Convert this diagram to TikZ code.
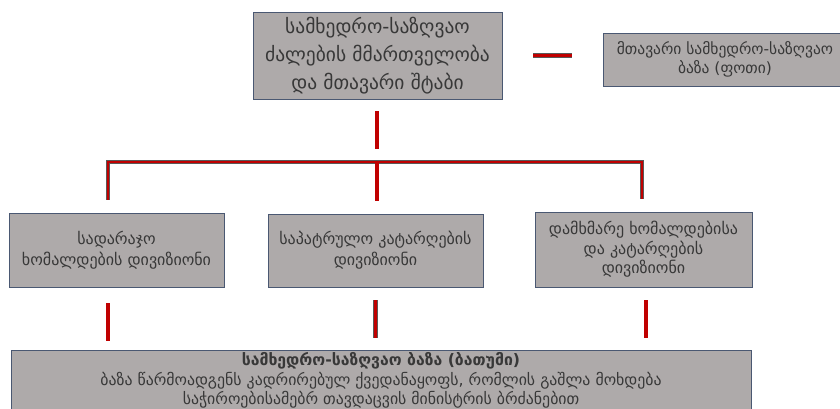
\documentclass[tikz,border=0pt]{standalone}
\usepackage{fontspec}
\setmainfont{DejaVu Sans}
\definecolor{boxfill}{HTML}{AEAAAA}
\definecolor{boxline}{HTML}{4A5872}
\definecolor{barred}{HTML}{C00000}
\definecolor{txt}{HTML}{383838}
\begin{document}
\begin{tikzpicture}[x=1pt,y=-1pt,
  orgbox/.style={draw=boxline, line width=0.9pt, fill=boxfill, text=txt, align=center, inner sep=2pt},
  bar/.style={draw=black!65, double=barred, line width=0.6pt, double distance=3.6pt},
  thinbar/.style={draw=black!65, double=barred, line width=0.6pt, double distance=2.4pt}]
\useasboundingbox (0,0) rectangle (840,409);
\clip (0,0) rectangle (840,409);

\node[orgbox, minimum width=249pt, minimum height=87pt, font=\fontsize{19.5}{28}\selectfont] (top) at (377.5,55.5)
  {სამხედრო-საზღვაო\\ძალების მმართველობა\\და მთავარი შტაბი};
\node[orgbox, minimum width=244pt, minimum height=53pt, font=\fontsize{15.5}{19}\selectfont] (pbase) at (725,59.5)
  {მთავარი სამხედრო-საზღვაო\\ბაზა (ფოთი)};

\node[orgbox, minimum width=215pt, minimum height=74pt, font=\fontsize{16}{21}\selectfont] (left) at (116.5,250)
  {სადარაჯო\\ხომალდების დივიზიონი};
\node[orgbox, minimum width=215pt, minimum height=73pt, font=\fontsize{16}{21}\selectfont] (mid) at (375.5,250.5)
  {საპატრულო კატარღების\\დივიზიონი};
\node[orgbox, minimum width=217pt, minimum height=75pt, font=\fontsize{16}{19.5}\selectfont] (right) at (643.5,249.5)
  {დამხმარე ხომალდებისა\\და კატარღების\\დივიზიონი};

\node[orgbox, anchor=north, minimum width=740pt, text depth=30pt, inner ysep=2pt, font=\fontsize{15.8}{19.5}\selectfont] (base) at (381,350)
  {\textbf{სამხედრო-საზღვაო ბაზა (ბათუმი)}\\ბაზა წარმოადგენს კადრირებულ ქვედანაყოფს, რომლის გაშლა მოხდება\\საჭიროებისამებრ თავდაცვის მინისტრის ბრძანებით};

\coordinate (hub) at (377,162);
\coordinate (bl) at (108,162);
\coordinate (br) at (642,162);
\coordinate (rs) at (646,162);

\draw[bar, shorten <=12pt, shorten >=13pt] (top.south -| hub) -- (hub);
\draw[thinbar] ([yshift=13pt]left.north -| bl) -- (bl) -- (br) -- ([yshift=13pt]right.north -| br);
\draw[bar, shorten >=13pt] (hub) -- (mid.north -| hub);

\draw[bar, shorten <=31pt, shorten >=31pt] (top.east) -- (pbase.west |- top.east);

\draw[bar, shorten <=16pt, shorten >=9pt] (left.south -| bl) -- (base.north -| bl);
\draw[bar, shorten <=13pt, shorten >=12pt] (mid.south) -- (base.north -| mid.south);
\draw[bar, shorten <=13pt, shorten >=12pt] (right.south -| rs) -- (base.north -| rs);
\end{tikzpicture}
\end{document}
